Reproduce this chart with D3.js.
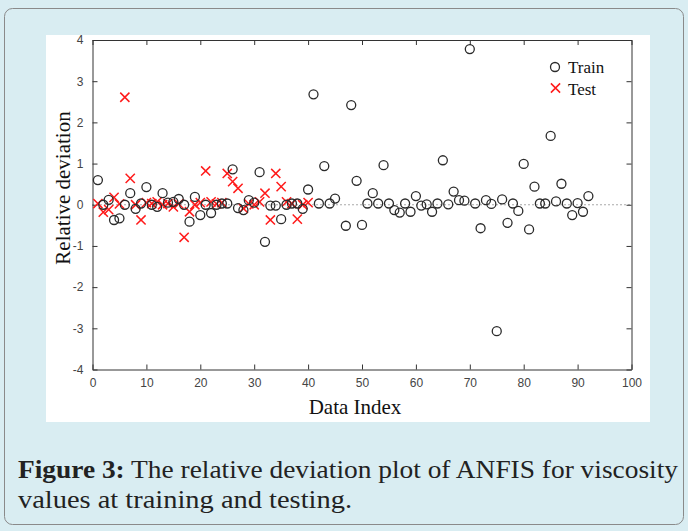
<!doctype html>
<html>
<head>
<meta charset="utf-8">
<script src="https://cdn.jsdelivr.net/npm/d3@7"></script>
<style>
  body { margin: 0; background: #d9edf2; }
  svg { display: block; }
</style>
</head>
<body>
<svg width="688" height="531"></svg>
<script>
// training points: data index and relative deviation
var trainIndex = [1,2,3,4,5,6,7,8,9,10,11,12,13,14,15,16,17,18,19,20,21,22,23,24,25,26,27,28,29,30,
  31,32,33,34,35,36,37,38,39,40,41,42,43,44,45,47,48,49,50,51,52,53,54,55,56,57,58,59,60,61,
  62,63,64,65,66,67,68,69,70,71,72,73,74,75,76,77,78,79,80,81,82,83,84,85,86,87,88,89,90,91,92];
var trainDev = [0.6,0.0,0.12,-0.37,-0.33,0.0,0.28,-0.1,0.03,0.43,0.0,-0.05,0.28,0.05,0.07,0.14,0.0,-0.41,0.19,-0.25,
  0.0,-0.2,0.0,0.03,0.03,0.86,-0.08,-0.13,0.11,0.05,0.79,-0.9,-0.02,-0.02,-0.35,0.0,0.03,0.03,-0.1,0.37,
  2.68,0.03,0.94,0.03,0.15,-0.51,2.42,0.58,-0.49,0.03,0.28,0.03,0.96,0.03,-0.13,-0.19,0.03,-0.17,0.21,-0.02,
  0.01,-0.17,0.03,1.08,0.01,0.32,0.11,0.1,3.78,0.03,-0.57,0.11,0.02,-3.07,0.13,-0.44,0.03,-0.15,0.99,-0.6,
  0.44,0.03,0.03,1.67,0.08,0.51,0.03,-0.25,0.04,-0.17,0.21];

// testing points
var testIndex = [1,2,3,4,5,6,7,8,9,10,11,12,13,14,15,16,17,18,19,20,
  21,22,23,24,25,26,27,28,29,30,31,32,33,34,35,36,37,38,39,40];
var testDev = [0.03,-0.18,-0.12,0.18,0.02,2.61,0.64,0.0,-0.37,0.05,0.03,0.07,0.0,0.03,-0.05,0.02,-0.79,-0.17,0.0,0.05,
  0.82,0.07,0.02,0.05,0.76,0.56,0.4,-0.09,0.02,0.0,0.07,0.28,-0.37,0.76,0.44,0.07,0.03,-0.35,0.0,0.05];

var xTicks = [0,10,20,30,40,50,60,70,80,90,100];
var yTicks = [-4,-3,-2,-1,0,1,2,3,4];

var svg = d3.select("svg");

// panel frame and white figure area
svg.append("rect").attr("x", 4.5).attr("y", 8.5).attr("width", 679).attr("height", 516)
   .attr("rx", 8).attr("fill", "#d9edf2").attr("stroke", "#8a8a8a");
svg.append("rect").attr("x", 46).attr("y", 35).attr("width", 604).attr("height", 387).attr("fill", "white");

var xScale = d3.scaleLinear().domain([0,100]).range([92.5,631.5]);
var yScale = d3.scaleLinear().domain([-4,4]).range([369.5,40]);

var axisColor = "#333";
var plainNum = function(d) { return String(d); };   // plain hyphen minus, like the original
function styleAxis(g) {
  g.select(".domain").attr("stroke", axisColor);
  g.selectAll(".tick line").attr("stroke", axisColor);
  g.selectAll(".tick text").attr("fill", "#444")
   .style("font-family", "'Liberation Sans', Arial, sans-serif").style("font-size", "12px");
}

svg.append("g").attr("transform", "translate(0,369.5)")
   .call(d3.axisBottom(xScale).tickValues(xTicks).tickFormat(plainNum).tickSizeInner(-5).tickSizeOuter(0).tickPadding(9))
   .call(styleAxis);
svg.append("g").attr("transform", "translate(0,40)")
   .call(d3.axisTop(xScale).tickValues(xTicks).tickSizeInner(-5).tickSizeOuter(0).tickFormat(""))
   .call(styleAxis);
svg.append("g").attr("transform", "translate(92.5,0)")
   .call(d3.axisLeft(yScale).tickValues(yTicks).tickFormat(plainNum).tickSizeInner(-5).tickSizeOuter(0).tickPadding(9))
   .call(styleAxis);
svg.append("g").attr("transform", "translate(631.5,0)")
   .call(d3.axisRight(yScale).tickValues(yTicks).tickSizeInner(-5).tickSizeOuter(0).tickFormat(""))
   .call(styleAxis);

// zero reference line
svg.append("line")
   .attr("x1", xScale(0)).attr("x2", xScale(100))
   .attr("y1", yScale(0)).attr("y2", yScale(0))
   .attr("stroke", "#555").attr("stroke-width", 1).attr("stroke-dasharray", "1,3");

// test crosses
var cs = 4.6;
var testData = testIndex.map(function(d, i) { return {x: d, y: testDev[i]}; });
svg.append("g").selectAll("path.test")
   .data(testData)
   .enter()
   .append("path")
   .attr("class", "test")
   .attr("d", function(d) {
     var cx = xScale(d.x), cy = yScale(d.y);
     return "M" + (cx-cs) + "," + (cy-cs) + "L" + (cx+cs) + "," + (cy+cs) +
            "M" + (cx-cs) + "," + (cy+cs) + "L" + (cx+cs) + "," + (cy-cs);
   })
   .attr("stroke", "#ff1a1a").attr("stroke-width", 1.5).attr("fill", "none");

// train circles
var trainData = trainIndex.map(function(d, i) { return {x: d, y: trainDev[i]}; });
svg.append("g").selectAll("circle.train")
   .data(trainData)
   .enter()
   .append("circle")
   .attr("class", "train")
   .attr("r", 4.5)
   .attr("cx", function(d) { return xScale(d.x); })
   .attr("cy", function(d) { return yScale(d.y); })
   .attr("fill", "none").attr("stroke", "#2a2a2a").attr("stroke-width", 1.3);

// legend
var serif = "'Liberation Serif', 'Times New Roman', serif";
svg.append("circle").attr("cx", 555).attr("cy", 67).attr("r", 4.5)
   .attr("fill", "none").attr("stroke", "#2a2a2a").attr("stroke-width", 1.3);
svg.append("text").attr("x", 568).attr("y", 73).text("Train")
   .style("font-family", serif).style("font-size", "17px").attr("fill", "#111");
svg.append("path")
   .attr("d", "M" + (555.5-cs) + "," + (88-cs) + "L" + (555.5+cs) + "," + (88+cs) +
              "M" + (555.5-cs) + "," + (88+cs) + "L" + (555.5+cs) + "," + (88-cs))
   .attr("stroke", "#ff1a1a").attr("stroke-width", 1.5);
svg.append("text").attr("x", 568).attr("y", 95).text("Test")
   .style("font-family", serif).style("font-size", "17px").attr("fill", "#111");

// axis titles
svg.append("text").attr("x", 355).attr("y", 414).attr("text-anchor", "middle")
   .text("Data Index").style("font-family", serif).style("font-size", "21px").attr("fill", "#111");
svg.append("text").attr("transform", "translate(70,188) rotate(-90)").attr("text-anchor", "middle")
   .text("Relative deviation").style("font-family", serif).style("font-size", "21px").attr("fill", "#111");

// caption
var cap = svg.append("text").attr("x", 18).attr("y", 478)
   .attr("textLength", 660).attr("lengthAdjust", "spacingAndGlyphs")
   .style("font-family", serif).style("font-size", "25px").attr("fill", "#222");
cap.append("tspan").attr("font-weight", "bold").text("Figure 3:");
cap.append("tspan").text(" The relative deviation plot of ANFIS for viscosity");
svg.append("text").attr("x", 18).attr("y", 508)
   .attr("textLength", 334).attr("lengthAdjust", "spacingAndGlyphs")
   .style("font-family", serif).style("font-size", "25px").attr("fill", "#222")
   .text("values at training and testing.");
</script>
</body>
</html>
